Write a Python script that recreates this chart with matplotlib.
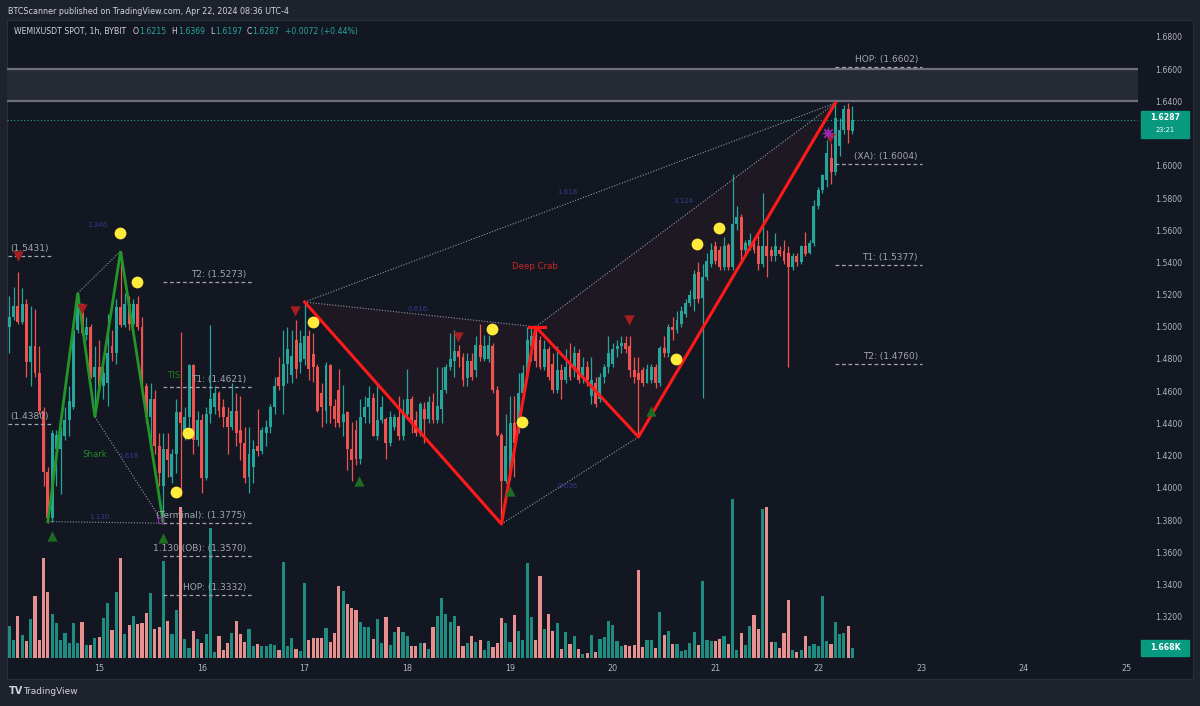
import matplotlib
matplotlib.use('Agg')
import matplotlib.pyplot as plt
import numpy as np
from matplotlib.patches import Rectangle
from matplotlib.transforms import blended_transform_factory

# ---------------- data (hourly bars, Apr 14 03:00 -> Apr 22 08:00) ----------------
opens = [1.500,1.506,1.513,1.503,1.514,1.478,1.488,1.471,1.448,1.410,
         1.381,1.424,1.424,1.432,1.442,1.450,1.498,1.514,1.495,1.500,
         1.469,1.475,1.463,1.465,1.488,1.484,1.512,1.501,1.514,1.502,
         1.514,1.500,1.463,1.444,1.455,1.426,1.401,1.424,1.407,1.421,
         1.447,1.434,1.444,1.476,1.430,1.442,1.406,1.446,1.450,1.459,
         1.450,1.444,1.438,1.448,1.436,1.428,1.407,1.413,1.426,1.423,
         1.434,1.438,1.450,1.469,1.463,1.477,1.470,1.492,1.478,1.480,
         1.494,1.483,1.475,1.459,1.448,1.476,1.451,1.461,1.441,1.447,
         1.424,1.436,1.418,1.444,1.450,1.456,1.432,1.442,1.443,1.428,
         1.438,1.444,1.432,1.446,1.455,1.442,1.434,1.449,1.443,1.453,
         1.442,1.449,1.461,1.475,1.479,1.485,1.481,1.468,1.479,1.473,
         1.489,1.480,1.480,1.488,1.461,1.433,1.404,1.410,1.440,1.436,
         1.459,1.471,1.488,1.494,1.492,1.475,1.486,1.477,1.461,1.473,
         1.467,1.477,1.473,1.484,1.469,1.475,1.457,1.465,1.455,1.469,
         1.475,1.477,1.486,1.488,1.490,1.488,1.473,1.471,1.473,1.465,
         1.467,1.475,1.465,1.487,1.484,1.500,1.498,1.502,1.508,1.515,
         1.517,1.534,1.518,1.531,1.539,1.550,1.548,1.537,1.551,1.537,
         1.564,1.568,1.548,1.550,1.553,1.550,1.539,1.550,1.548,1.544,
         1.548,1.547,1.546,1.537,1.544,1.540,1.550,1.546,1.552,1.575,
         1.585,1.591,1.605,1.596,1.612,1.622,1.635,1.6215]
highs = [1.519,1.525,1.534,1.524,1.517,1.513,1.511,1.488,1.450,1.413,
         1.436,1.436,1.438,1.450,1.463,1.504,1.521,1.515,1.506,1.502,
         1.488,1.492,1.475,1.508,1.498,1.517,1.547,1.521,1.519,1.517,
         1.519,1.506,1.465,1.465,1.461,1.434,1.434,1.434,1.424,1.455,
         1.497,1.450,1.477,1.477,1.448,1.446,1.450,1.501,1.463,1.460,
         1.455,1.450,1.465,1.459,1.457,1.438,1.438,1.430,1.449,1.438,
         1.442,1.452,1.469,1.481,1.498,1.500,1.498,1.504,1.498,1.515,
         1.498,1.496,1.477,1.465,1.478,1.477,1.455,1.474,1.464,1.448,
         1.441,1.442,1.455,1.457,1.463,1.459,1.464,1.457,1.444,1.448,
         1.446,1.457,1.455,1.474,1.457,1.448,1.453,1.453,1.457,1.459,
         1.475,1.475,1.477,1.496,1.498,1.489,1.484,1.484,1.484,1.494,
         1.502,1.495,1.495,1.490,1.463,1.434,1.446,1.457,1.457,1.471,
         1.476,1.500,1.500,1.500,1.494,1.492,1.488,1.484,1.488,1.477,
         1.486,1.490,1.488,1.486,1.481,1.479,1.481,1.469,1.471,1.477,
         1.494,1.490,1.492,1.494,1.494,1.494,1.481,1.481,1.475,1.477,
         1.477,1.477,1.488,1.494,1.502,1.506,1.510,1.513,1.517,1.523,
         1.535,1.540,1.539,1.546,1.552,1.553,1.550,1.556,1.552,1.595,
         1.575,1.570,1.554,1.558,1.556,1.558,1.583,1.560,1.550,1.558,
         1.550,1.554,1.550,1.546,1.546,1.551,1.559,1.554,1.579,1.587,
         1.595,1.616,1.614,1.639,1.630,1.638,1.639,1.6369]
lows = [1.484,1.504,1.502,1.502,1.469,1.463,1.469,1.446,1.401,1.378,
        1.379,1.401,1.396,1.430,1.432,1.449,1.496,1.495,1.492,1.468,
        1.444,1.462,1.455,1.451,1.479,1.477,1.500,1.500,1.498,1.500,
        1.498,1.461,1.440,1.426,1.421,1.401,1.378,1.407,1.403,1.409,
        1.395,1.430,1.438,1.421,1.426,1.397,1.405,1.440,1.446,1.444,
        1.438,1.421,1.436,1.426,1.417,1.403,1.397,1.403,1.420,1.421,
        1.426,1.434,1.446,1.461,1.446,1.465,1.465,1.468,1.471,1.476,
        1.467,1.466,1.447,1.438,1.440,1.440,1.438,1.438,1.432,1.411,
        1.404,1.414,1.415,1.440,1.440,1.432,1.430,1.440,1.418,1.426,
        1.436,1.430,1.430,1.444,1.434,1.432,1.432,1.428,1.440,1.440,
        1.440,1.440,1.459,1.473,1.469,1.475,1.463,1.463,1.467,1.469,
        1.479,1.479,1.478,1.459,1.432,1.3775,1.403,1.405,1.407,1.434,
        1.457,1.469,1.479,1.475,1.474,1.473,1.467,1.459,1.459,1.455,
        1.465,1.467,1.469,1.465,1.465,1.463,1.452,1.450,1.453,1.465,
        1.471,1.475,1.481,1.484,1.484,1.469,1.465,1.4316,1.463,1.465,
        1.465,1.462,1.463,1.481,1.481,1.492,1.496,1.500,1.506,1.513,
        1.510,1.515,1.456,1.529,1.537,1.539,1.535,1.535,1.535,1.535,
        1.560,1.541,1.546,1.548,1.546,1.535,1.537,1.531,1.541,1.541,
        1.544,1.539,1.475,1.535,1.538,1.539,1.544,1.545,1.550,1.573,
        1.583,1.587,1.589,1.594,1.606,1.620,1.614,1.6197]
closes = [1.506,1.513,1.503,1.514,1.478,1.488,1.471,1.448,1.410,1.381,
          1.434,1.433,1.436,1.442,1.454,1.498,1.518,1.496,1.500,1.469,
          1.475,1.463,1.471,1.484,1.484,1.512,1.501,1.514,1.502,1.514,
          1.500,1.463,1.444,1.455,1.426,1.409,1.424,1.417,1.421,1.447,
          1.440,1.444,1.476,1.430,1.442,1.406,1.446,1.455,1.459,1.448,
          1.444,1.438,1.448,1.434,1.428,1.406,1.421,1.424,1.423,1.436,
          1.438,1.450,1.463,1.463,1.477,1.486,1.482,1.474,1.490,1.494,
          1.474,1.475,1.448,1.450,1.476,1.451,1.443,1.440,1.446,1.424,
          1.417,1.418,1.444,1.450,1.456,1.432,1.442,1.450,1.428,1.444,
          1.444,1.432,1.446,1.455,1.442,1.434,1.452,1.443,1.453,1.442,
          1.451,1.461,1.475,1.480,1.485,1.481,1.467,1.479,1.469,1.489,
          1.481,1.488,1.489,1.461,1.433,1.404,1.426,1.440,1.428,1.459,
          1.471,1.492,1.494,1.479,1.475,1.486,1.469,1.461,1.473,1.467,
          1.475,1.469,1.484,1.467,1.475,1.467,1.467,1.452,1.469,1.475,
          1.484,1.486,1.488,1.490,1.486,1.473,1.469,1.467,1.465,1.474,
          1.475,1.465,1.487,1.484,1.500,1.498,1.504,1.510,1.515,1.520,
          1.533,1.517,1.531,1.541,1.548,1.541,1.537,1.550,1.537,1.564,
          1.568,1.548,1.552,1.554,1.548,1.539,1.550,1.544,1.544,1.550,
          1.545,1.541,1.537,1.544,1.540,1.550,1.545,1.552,1.575,1.585,
          1.594,1.608,1.596,1.630,1.622,1.635,1.622,1.6287]
volumes_k = [5.39,2.95,7.06,3.84,2.89,6.56,10.40,3.00,16.68,11.01,
             7.34,5.84,3.06,4.17,2.50,5.84,2.50,6.00,2.11,2.22,
             3.28,3.56,6.73,9.12,4.61,11.01,16.74,4.06,5.50,7.01,
             5.62,5.89,7.51,10.79,4.84,5.12,16.18,6.12,4.00,8.01,
             25.19,3.22,1.61,4.45,3.22,2.50,4.06,21.74,1.06,3.73,
             1.33,2.45,4.17,6.12,4.06,2.61,4.84,2.06,2.34,2.06,
             2.06,2.39,2.17,1.39,16.01,2.06,3.34,1.50,1.22,12.51,
             3.06,3.34,3.34,3.34,4.95,2.72,4.23,11.95,11.12,9.06,
             8.34,7.95,6.06,5.12,5.17,3.17,6.56,2.50,6.89,2.22,
             4.34,5.23,4.28,3.61,2.06,1.95,2.50,2.56,1.56,5.12,
             6.95,10.01,7.34,5.95,7.06,5.28,2.06,2.50,3.61,2.72,
             2.95,1.39,2.78,1.83,2.50,6.67,5.84,2.61,7.23,4.45,
             2.95,15.85,6.84,3.06,13.73,4.84,7.34,4.45,5.84,1.50,
             4.28,2.39,3.73,1.56,0.72,0.83,3.84,1.06,3.22,3.50,
             6.23,5.45,2.78,2.06,2.22,1.95,2.22,14.68,1.83,3.06,
             3.06,1.72,7.73,3.84,4.45,2.34,2.34,1.17,1.39,2.50,
             4.34,2.11,12.90,3.06,2.78,2.78,3.17,3.73,2.34,26.52,
             1.39,4.17,2.22,5.39,7.12,4.84,24.91,25.19,2.61,2.67,
             1.61,4.11,9.62,1.33,0.95,1.39,3.73,1.95,2.34,1.95,
             10.40,2.78,2.39,5.95,4.06,4.17,5.39,1.668]

day_labels = ['15', '16', '17', '18', '19', '20', '21', '22', '23', '24', '25']
day_first_bar = 21          # bar index of Apr 15 00:00
# 1.6200 is hidden behind the last-price tag in the reference
price_ticks = [1.32, 1.34, 1.36, 1.38, 1.40, 1.42, 1.44, 1.46, 1.48, 1.50,
               1.52, 1.54, 1.56, 1.58, 1.60, 1.64, 1.66, 1.68]

# harmonic patterns (bar index, price)
shark_idx = [9, 16, 20, 26, 36]
shark_px = [1.379, 1.521, 1.444, 1.547, 1.378]
crab_idx = [69, 115, 123, 147, 193]
crab_px = [1.5154, 1.3775, 1.5000, 1.4316, 1.6390]

dots_idx = [25.9, 29.8, 41.8, 38.9, 70.9, 112.8, 119.8, 160.7, 165.8, 155.8]
dots_px = [1.5583, 1.5278, 1.4340, 1.3974, 1.5030, 1.4986, 1.4409, 1.5514, 1.5614, 1.4800]
red_tri_idx = [2.0, 17.0, 66.7, 104.8, 144.8, 191.8]
red_tri_px = [1.5440, 1.5110, 1.5098, 1.4937, 1.5042, 1.6170]
green_tri_idx = [10.0, 36.0, 81.7, 117.0, 150.0]
green_tri_px = [1.3700, 1.3690, 1.4040, 1.3980, 1.4480]

right_levels = [("HOP: (1.6602)", 1.6614), ("(XA): (1.6004)", 1.6011),
                ("T1: (1.5377)", 1.5384), ("T2: (1.4760)", 1.4769)]
left_levels = [("T2: (1.5273)", 1.5278), ("T1: (1.4621)", 1.4626),
               ("(Terminal): (1.3775)", 1.3781), ("1.130 (OB): (1.3570)", 1.3577),
               ("HOP: (1.3332)", 1.3334)]
edge_levels = [("(1.5431)", 1.5440), ("(1.4380)", 1.4396)]

last_price = 1.6287
hop_zone = (1.6400, 1.6602)

# ---------------- figure ----------------
W, H = 1200, 706
fig = plt.figure(figsize=(12, 7.06), dpi=100, facecolor='#1e222d')
fx = lambda px: px / W
fy = lambda py: 1 - py / H

bg = fig.add_axes([fx(7), fy(679), fx(1193) - fx(7), fy(20) - fy(679)])
bg.set_facecolor('#131722')
bg.set_xticks([]); bg.set_yticks([])
for s in bg.spines.values():
    s.set_color('#2a2e39')

rect = [fx(7), fy(658), fx(1138) - fx(7), fy(20) - fy(658)]
axv = fig.add_axes(rect)
ax = fig.add_axes(rect)
for a in (axv, ax):
    a.patch.set_alpha(0)
    for s in a.spines.values():
        s.set_visible(False)

X0, BARW = 9.3, 4.28
xlim = ((7 - X0) / BARW, (1138 - X0) / BARW)
PPX = 1 / 1610.0
ylim = (1.68 - (658 - 37) * PPX, 1.68 + (37 - 20) * PPX)
for a in (axv, ax):
    a.set_xlim(*xlim)
ax.set_ylim(*ylim)
axv.set_ylim(0, 638 * 0.1668)
axv.set_xticks([]); axv.set_yticks([])

o = np.array(opens); h = np.array(highs); l = np.array(lows); c = np.array(closes)
idx = np.arange(len(o))
up = c >= o
UP, DN = '#26a69a', '#ef5350'
col = np.where(up, UP, DN)
vcol = np.where(up, '#1f8c81', '#e8908f')

axv.bar(idx, volumes_k, 0.74, color=vcol, linewidth=0, zorder=1)

# HOP zone box
ax.axhspan(hop_zone[0], hop_zone[1], color='#262a35', zorder=0.5, lw=0)
ax.axhline(hop_zone[0], color='#6d707a', lw=1.6, zorder=0.6)
ax.axhline(hop_zone[1], color='#6d707a', lw=1.6, zorder=0.6)
ax.axhline(last_price, color='#26a69a', lw=0.8, ls=(0, (1, 2)), zorder=1)

# crab fills
ax.fill([crab_idx[0], crab_idx[1], crab_idx[2]], [crab_px[0], crab_px[1], crab_px[2]],
        color='#f23645', alpha=0.05, lw=0, zorder=1)
ax.fill([crab_idx[2], crab_idx[3], crab_idx[4]], [crab_px[2], crab_px[3], crab_px[4]],
        color='#f23645', alpha=0.05, lw=0, zorder=1)

# candles
ax.vlines(idx, l, h, colors=col, lw=0.9, zorder=3)
bb = np.minimum(o, c)
bh = np.maximum(np.abs(c - o), 0.0007)
ax.bar(idx, bh, 0.68, bottom=bb, color=col, linewidth=0, zorder=4)

dot_kw = dict(color='#9598a1', lw=0.8, ls=(0, (1, 1.5)), zorder=5)
# shark
ax.plot([shark_idx[1], shark_idx[3]], [shark_px[1], shark_px[3]], **dot_kw)
ax.plot([shark_idx[2], shark_idx[4]], [shark_px[2], shark_px[4]], **dot_kw)
ax.plot([shark_idx[0], shark_idx[4]], [shark_px[0], shark_px[4]], **dot_kw)
ax.plot(shark_idx, shark_px, color='#23962a', lw=2.0, zorder=6, solid_joinstyle='miter')
# crab
ax.plot([crab_idx[0], crab_idx[2]], [crab_px[0], crab_px[2]], **dot_kw)
ax.plot([crab_idx[0], crab_idx[4]], [crab_px[0], crab_px[4]], **dot_kw)
ax.plot([crab_idx[1], crab_idx[3]], [crab_px[1], crab_px[3]], **dot_kw)
ax.plot([crab_idx[2], crab_idx[4]], [crab_px[2], crab_px[4]], **dot_kw)
ax.plot(crab_idx, crab_px, color='#ff1a1a', lw=2.2, zorder=6)
ax.plot([crab_idx[2] - 1.6, crab_idx[2] + 2.2], [crab_px[2], crab_px[2]], color='#ff1a1a', lw=2.2, zorder=6)

ratio_kw = dict(color='#38388f', fontsize=5, ha='center', va='center', zorder=7)
ax.text(20.5, 1.5635, '1.346', **ratio_kw)
ax.text(27.7, 1.4195, '1.618', **ratio_kw)
ax.text(21.0, 1.3820, '1.130', **ratio_kw)
ax.text(95.5, 1.5110, '0.616', **ratio_kw)
ax.text(130.5, 1.5840, '1.618', **ratio_kw)
ax.text(130.5, 1.4010, '0.636', **ratio_kw)
ax.text(157.5, 1.5780, '3.124', **ratio_kw)
ax.text(122.8, 1.5372, 'Deep Crab', color='#c62828', fontsize=6.2, ha='center', va='center', zorder=7)
ax.text(20.0, 1.4204, 'Shark', color='#1f8a24', fontsize=6.2, ha='center', va='center', zorder=7)

# markers
ax.scatter(dots_idx, dots_px, s=72, color='#ffeb3b', zorder=8, linewidths=0)
ax.scatter(red_tri_idx, red_tri_px, s=55, marker='v', color='#a81d1d', zorder=8, linewidths=0)
ax.scatter(green_tri_idx, green_tri_px, s=55, marker='^', color='#1e6b22', zorder=8, linewidths=0)
ax.scatter([191.2], [1.6204], s=60, marker=(8, 2, 0), color='#9c27b0', zorder=9, linewidths=0.8)
ax.scatter([191.2], [1.6204], s=14, marker='o', facecolor='none', edgecolor='#9c27b0', zorder=9, linewidths=0.8)
ax.scatter([35.3], [1.3800], s=16, marker='s', facecolor='none', edgecolor='#8e24aa', zorder=9, linewidths=0.8)

# level labels
pix = lambda px: (px - X0) / BARW
lab_kw = dict(color='#a3a6af', fontsize=6.5, zorder=9)
dash = (0, (3, 2.2))
for txt, p in right_levels:
    ax.hlines(p, pix(835), pix(922), colors='#a3a6af', linestyles=dash, lw=0.9, zorder=7)
    ax.text(pix(918), p + 3 * PPX, txt, ha='right', va='bottom', **lab_kw)
for txt, p in left_levels:
    ax.hlines(p, pix(163), pix(252), colors='#a3a6af', linestyles=dash, lw=0.9, zorder=7)
    ax.text(pix(246), p + 3 * PPX, txt, ha='right', va='bottom', **lab_kw)
for txt, p in edge_levels:
    ax.hlines(p, pix(8), pix(52), colors='#a3a6af', linestyles=dash, lw=0.9, zorder=7)
    ax.text(pix(10), p + 3 * PPX, txt, ha='left', va='bottom', **lab_kw)
ax.text(pix(168), 1.4626 + 7 * PPX, 'TIS', color='#1f7a24', fontsize=6.2, ha='left', va='bottom', zorder=10)

# axes ticks
ax.yaxis.tick_right()
ax.set_yticks(price_ticks)
ax.set_yticklabels(['%.4f' % p for p in price_ticks])
ax.tick_params(axis='y', length=0, pad=12, labelsize=5.6, labelcolor='#b2b5be')
ax.set_xticks([day_first_bar + 24 * k for k in range(len(day_labels))])
ax.set_xticklabels(day_labels)
ax.tick_params(axis='x', length=0, pad=4, labelsize=5.8, labelcolor='#b2b5be')

# last price box
bt = blended_transform_factory(fig.transFigure, ax.transData)
ax.add_patch(Rectangle((fx(1141), last_price - 18 * PPX), fx(1189) - fx(1141), 27 * PPX,
                       transform=bt, color='#089981', zorder=20, clip_on=False))
ax.text(fx(1165), last_price + 2.5 * PPX, '%.4f' % last_price, transform=bt, color='white', fontsize=5.6,
        fontweight='bold', ha='center', va='center', zorder=21, clip_on=False)
ax.text(fx(1165), last_price - 10.5 * PPX, '23:21', transform=bt, color='white', fontsize=4.8,
        ha='center', va='center', zorder=21, clip_on=False)
bv = blended_transform_factory(fig.transFigure, axv.transData)
VPX = 0.1668
axv.add_patch(Rectangle((fx(1141), volumes_k[-1] - 8 * VPX), fx(1189) - fx(1141), 16 * VPX,
                        transform=bv, color='#089981', zorder=20, clip_on=False))
axv.text(fx(1165), volumes_k[-1], '1.668K', transform=bv, color='white', fontsize=5.6,
         fontweight='bold', ha='center', va='center', zorder=21, clip_on=False)

# header / footer
fig.canvas.draw()
r = fig.canvas.get_renderer()
def fit(t, target):
    w = t.get_window_extent(r).width
    t.set_fontsize(t.get_fontsize() * target / w)

t1 = fig.text(fx(7.5), fy(11.5), 'BTCScanner published on TradingView.com, Apr 22, 2024 08:36 UTC-4',
              color='#d1d4dc', fontsize=6, va='center', ha='left')
fit(t1, 282)
t2 = fig.text(fx(13.5), fy(31.5), 'WEMIXUSDT SPOT, 1h, BYBIT', color='#d1d4dc', fontsize=6,
              va='center', ha='left')
fit(t2, 113)
fs = t2.get_fontsize()
GV = '#26a69a'
for px_, s_, cc in [(133, 'O', '#d1d4dc'), (139.5, '1.6215', GV), (171.5, 'H', '#d1d4dc'),
                    (178, '1.6369', GV), (210, 'L', '#d1d4dc'), (215.5, '1.6197', GV),
                    (246.5, 'C', '#d1d4dc'), (252.5, '1.6287', GV), (285, '+0.0072 (+0.44%)', GV)]:
    fig.text(fx(px_), fy(31.5), s_, color=cc, fontsize=fs, va='center', ha='left')

fig.text(fx(9), fy(691.5), 'TV', color='#d1d4dc', fontsize=7, fontweight='bold', va='center', ha='left')
t3 = fig.text(fx(23), fy(691.5), 'TradingView', color='#d1d4dc', fontsize=6, va='center', ha='left')
fit(t3, 55)

fig.savefig('out.png', dpi=100, facecolor=fig.get_facecolor())
